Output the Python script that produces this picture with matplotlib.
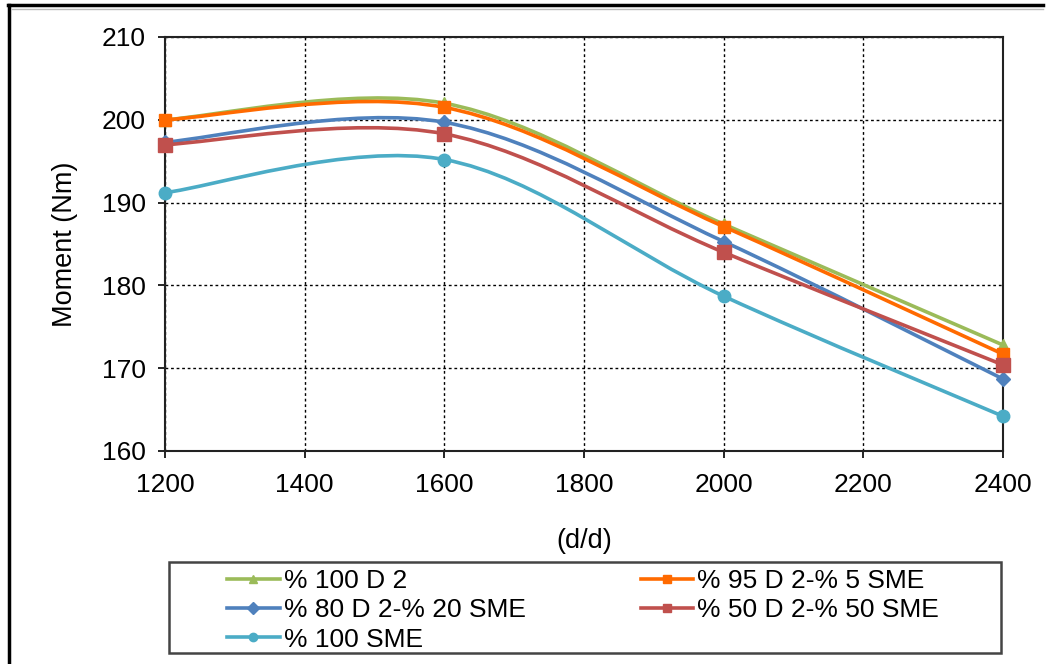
import numpy as np
import matplotlib
matplotlib.use('Agg')
import matplotlib.pyplot as plt
from matplotlib.path import Path
from matplotlib.patches import PathPatch, Rectangle
from matplotlib.lines import Line2D

plt.rcParams['font.family'] = ['Liberation Sans', 'DejaVu Sans']

# data
rpm = [1200, 1600, 2000, 2400]
d100 = [200.0, 202.0, 187.4, 172.8]
d95 = [200.0, 201.5, 187.1, 171.7]
d80 = [197.3, 199.7, 185.3, 168.7]
d50 = [197.0, 198.3, 184.0, 170.4]
sme100 = [191.2, 195.2, 178.7, 164.2]

labels = ['% 100 D 2', '% 95 D 2-% 5 SME', '% 80 D 2-% 20 SME',
          '% 50 D 2-% 50 SME', '% 100 SME']
colors = ['#9BBB59', '#FF6A00', '#4F81BD', '#C0504D', '#4BACC6']
markers = ['^', 's', 'D', 's', 'o']
msizes = [9, 9, 7, 10, 9]
series = [d100, d95, d80, d50, sme100]


def smooth_path(x, y):
    # excel-like smoothed line: bezier segments through the points
    p = np.column_stack([x, y]).astype(float)
    n = len(p)
    verts = [p[0]]
    codes = [Path.MOVETO]
    for i in range(n - 1):
        p0 = p[max(i - 1, 0)]
        p1 = p[i]
        p2 = p[i + 1]
        p3 = p[min(i + 2, n - 1)]
        c1 = p1 + (p2 - p0) / 6.0
        c2 = p2 - (p3 - p1) / 6.0
        verts += [c1, c2, p2]
        codes += [Path.CURVE4] * 3
    return Path(verts, codes)


fig = plt.figure(figsize=(10.48, 6.64), dpi=100)
ax = fig.add_axes([0.1574, 0.3208, 0.7996, 0.6235])

for s, c, m, ms in zip(series, colors, markers, msizes):
    ax.add_patch(PathPatch(smooth_path(rpm, s), fill=False, ec=c, lw=2.6,
                           zorder=3, clip_on=False))
    ax.plot(rpm, s, ls='none', marker=m, color=c, ms=ms, zorder=4, clip_on=False)

ax.set_xlim(1200, 2400)
ax.set_ylim(160, 210)
ax.set_xticks(range(1200, 2401, 200))
ax.set_yticks(range(160, 211, 10))
ax.grid(True, color='black', ls=(0, (2, 2)), lw=1)
ax.set_axisbelow(True)
for sp in ax.spines.values():
    sp.set_linewidth(1.5)
    sp.set_color('#222222')
ax.tick_params(direction='out', length=5, width=1.2, labelsize=19, pad=9)
ax.tick_params(axis='x', pad=11)
ax.set_xlabel('(d/d)', fontsize=19.5, labelpad=22)
ax.set_ylabel('Moment (Nm)', fontsize=19.5, labelpad=17)

# legend box
fig.patches.append(Rectangle((169 / 1048, 1 - 653 / 664), 832 / 1048, 91 / 664,
                             transform=fig.transFigure, fill=False,
                             ec='#444444', lw=1.8))
handles = [Line2D([], [], color=c, marker=m, lw=2.6, ms=6)
           for c, m in zip(colors, markers)]
order = [0, 2, 4, 1, 3]
fig.legend([handles[i] for i in order], [labels[i] for i in order],
           loc='upper left', bbox_to_anchor=(227 / 1048, 1 - 569 / 664),
           ncol=2, frameon=False, fontsize=19, handlelength=2.0,
           handletextpad=0.15, columnspacing=4.35, labelspacing=0.2,
           borderpad=0, borderaxespad=0)

# outer frame
fig.add_artist(Line2D([8 / 1048, 1043 / 1048], [1 - 5 / 664] * 2,
                      transform=fig.transFigure, color='black', lw=2.5))
fig.add_artist(Line2D([9 / 1048] * 2, [0, 1 - 5 / 664],
                      transform=fig.transFigure, color='black', lw=2.5))
fig.add_artist(Line2D([12 / 1048, 1043 / 1048], [1 - 9 / 664] * 2,
                      transform=fig.transFigure, color='#bbbbbb', lw=1))

fig.savefig('out.png', dpi=100)
